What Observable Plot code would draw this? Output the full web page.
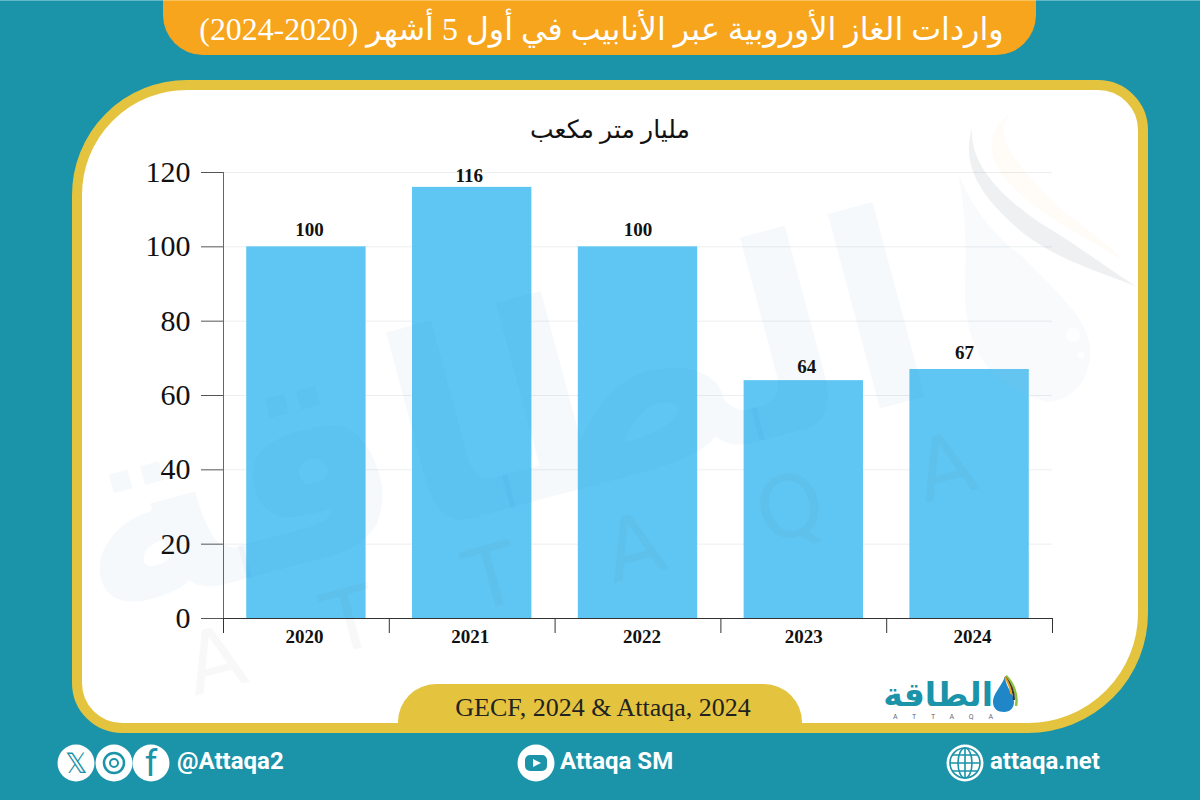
<!DOCTYPE html>
<html lang="ar"><head><meta charset="utf-8">
<script src="https://cdn.jsdelivr.net/npm/d3@7"></script>
<script src="https://cdn.jsdelivr.net/npm/@observablehq/plot@0.6"></script>
<style>
html,body{margin:0;padding:0;width:1200px;height:800px;overflow:hidden;background:#1b93a9}
#stage{position:relative;width:1200px;height:800px;overflow:hidden;background:#1b93a9}
#stage>*{position:absolute}
#topline{left:0;top:0;width:1200px;height:1px;background:#63b8c8}
#banner{left:163px;top:0;width:873px;height:55px;background:#f7a51d;border-radius:0 0 40px 40px;border-top:1px solid #f9c25e;box-sizing:border-box}
#title{left:165px;top:10px;width:873px;text-align:center;color:#fff;font:31.8px "Liberation Serif","DejaVu Sans",serif;white-space:nowrap;direction:rtl}
#card{left:72px;top:80px;width:1076px;height:653px;box-sizing:border-box;background:#fff;border:10px solid #e4c43f;border-radius:115px 50px 120px 50px}
#sub{left:82px;width:1056px;top:115px;text-align:center;font:25px "Liberation Serif","DejaVu Sans",serif;color:#111;direction:rtl}
#tab{left:398px;top:684px;width:404px;height:42px;background:#e4c43f;border-radius:38px 38px 0 0}
#source{left:398px;top:693px;width:410px;text-align:center;font:26px "Liberation Serif",serif;color:#222;white-space:nowrap}
#plot{left:0;top:0}
#decor{pointer-events:none}
.foot{color:#fff;font:bold 24px Roboto,sans-serif;top:747px;white-space:nowrap}
</style></head><body>
<div id="stage">
<div id="topline"></div>
<div id="banner"></div><div id="title">واردات الغاز الأوروبية عبر الأنابيب في أول 5 أشهر (2020-2024)</div>
<div id="card"></div>
<div id="tab"></div><div id="source">GECF, 2024 &amp; Attaqa, 2024</div>
<svg width="1200" height="800" style="left:0;top:0" id="logo">
 <text x="993" y="706" text-anchor="start" direction="rtl" font-family="DejaVu Sans,sans-serif" font-weight="bold" font-size="33" fill="#1b93a9" style="direction:rtl">الطاقة</text>
 <text x="893" y="719" font-family="Roboto,sans-serif" font-size="7" fill="#667" textLength="100" lengthAdjust="spacing">ATTAQA</text>
 <path d="M1005 677C1000 688 993 694 993 702C993 709 998 712 1004 712C1010 712 1014 708 1014 702C1014 694 1006 688 1005 677Z" fill="#1f86c8"/>
 <path d="M1006 676C1014 684 1018 696 1016 706" stroke="#8fbf3f" stroke-width="2.5" fill="none"/>
 <path d="M1005 677C1011 684 1014 692 1014 700" stroke="#333" stroke-width="2" fill="none"/>
 <path d="M1005 677C1008 682 1011 688 1011 694" stroke="#e6a01e" stroke-width="2" fill="none"/>
 <g fill="#fff">
  <circle cx="76" cy="763" r="18.5"/><circle cx="114" cy="763" r="18.5"/><circle cx="151" cy="763" r="18.5"/>
  <circle cx="536" cy="763" r="18.5"/><circle cx="965" cy="763" r="18.5"/>
 </g>
 <g fill="#1b93a9" font-family="Roboto,sans-serif">
  <text x="76" y="773" text-anchor="middle" font-size="28">𝕏</text>
  <text x="151" y="776" text-anchor="middle" font-size="36">f</text>
  <circle cx="114" cy="763" r="10" fill="none" stroke="#1b93a9" stroke-width="2.5"/>
  <circle cx="114" cy="763" r="4" fill="none" stroke="#1b93a9" stroke-width="2"/>
  <rect x="525" y="755" width="22" height="16" rx="5"/>
  <path d="M533 759L541 763L533 767Z" fill="#fff"/>
  <g fill="none" stroke="#1b93a9" stroke-width="1.6">
   <circle cx="965" cy="763" r="15"/><ellipse cx="965" cy="763" rx="7" ry="15"/><path d="M965 748V778M950 763H980M952 755H978M952 771H978"/>
  </g>
 </g>
</svg>
<div class="foot" style="left:177px">@Attaqa2</div>
<div class="foot" style="left:560px">Attaqa SM</div>
<div class="foot" style="left:990px">attaqa.net</div>
<div id="sub">مليار متر مكعب</div>
<div id="plot"></div>
<svg width="1200" height="800" style="left:0;top:0" id="decor">
 <text transform="translate(520,505) rotate(-15)" font-family="DejaVu Sans,sans-serif" font-weight="bold" font-size="265" fill="#1b6fa9" fill-opacity=".04" text-anchor="middle" style="direction:rtl">الطاقة</text>
 <g font-family="DejaVu Sans,sans-serif" fill="#556" fill-opacity=".045" font-size="85" text-anchor="middle" dominant-baseline="central">
  <text transform="translate(215,660) rotate(-15)">A</text>
  <text transform="translate(350,620) rotate(-15)">T</text>
  <text transform="translate(492,577) rotate(-15)">T</text>
  <text transform="translate(634,547) rotate(-15)">A</text>
  <text transform="translate(790,507) rotate(-15)">Q</text>
  <text transform="translate(945,467) rotate(-15)">A</text>
 </g>
 <path d="M972 128C963 160 972 190 1023 233C1060 262 1110 275 1137 287C1110 270 1070 240 1040 223C1000 195 970 165 972 128Z" fill="#8a94a6" fill-opacity=".14"/>
 <path d="M1012 112C985 130 985 160 1013 187C1040 215 1090 240 1123 260C1100 235 1060 215 1030 177C1005 150 995 130 1012 112Z" fill="#f7a51d" fill-opacity=".04"/>
 <path d="M958 173C968 220 965 260 965 300C968 345 985 385 1047 402C1080 400 1092 370 1090 347C1088 320 1060 295 1023 257C1000 240 975 215 958 173Z" fill="#9db4d8" fill-opacity=".07"/>
 <circle cx="1073" cy="335" r="7" fill="#fff" fill-opacity=".8"/><circle cx="1081" cy="355" r="3.5" fill="#fff" fill-opacity=".8"/>
</svg>
</div>
<script>
const years = ["2020","2021","2022","2023","2024"];
const values = [100,116,100,64,67];
const yTicks = [0,20,40,60,80,100,120];
const rows = years.map((year,i)=>({year,value:values[i]}));
const step = 165.8;
const serif = '"Liberation Serif",serif';
const bold = {fontSize:19,fontFamily:serif,fontWeight:"bold",fill:"#111"};
const valueNudge = [[3,-17],[-3,-11],[0,-17],[3,-14],[-5,-17]];
const yearNudge = [-2,-2,4,0,3];
const chart = Plot.plot({
  width:1200,height:800,
  marginLeft:223,marginRight:148,marginTop:172,marginBottom:182,
  style:{background:"transparent",overflow:"visible"},
  x:{domain:years,paddingInner:0.28,paddingOuter:0.14,round:false,label:null},
  y:{domain:[0,120],label:null},
  marks:[
    Plot.gridY(yTicks,{stroke:"#eceef0",strokeOpacity:1,strokeWidth:1}),
    Plot.barY(rows,{x:"year",y:"value",fill:"#5fc6f3"}),
    Plot.frame({anchor:"left",stroke:"#666"}),
    Plot.ruleY([0],{stroke:"#333"}),
    Plot.axisY({ticks:yTicks,tickSize:22,tickPadding:11,stroke:"#555",strokeOpacity:1,
      fontSize:30,fontFamily:serif,fill:"#111",label:null}),
    Plot.axisX({tickSize:15,dx:-step/2,fill:"none",stroke:"#333",strokeOpacity:1,label:null}),
    Plot.axisX({ticks:[years[years.length-1]],tickSize:15,dx:step/2,fill:"none",stroke:"#333",strokeOpacity:1,label:null}),
    rows.map((d,i)=>Plot.text([d],{x:"year",y:0,text:"year",dy:18,dx:yearNudge[i],...bold})),
    rows.map((d,i)=>Plot.text([d],{x:"year",y:"value",text:r=>String(r.value),dx:valueNudge[i][0],dy:valueNudge[i][1],...bold}))
  ]
});
document.getElementById("plot").append(chart);
</script>
</body></html>
